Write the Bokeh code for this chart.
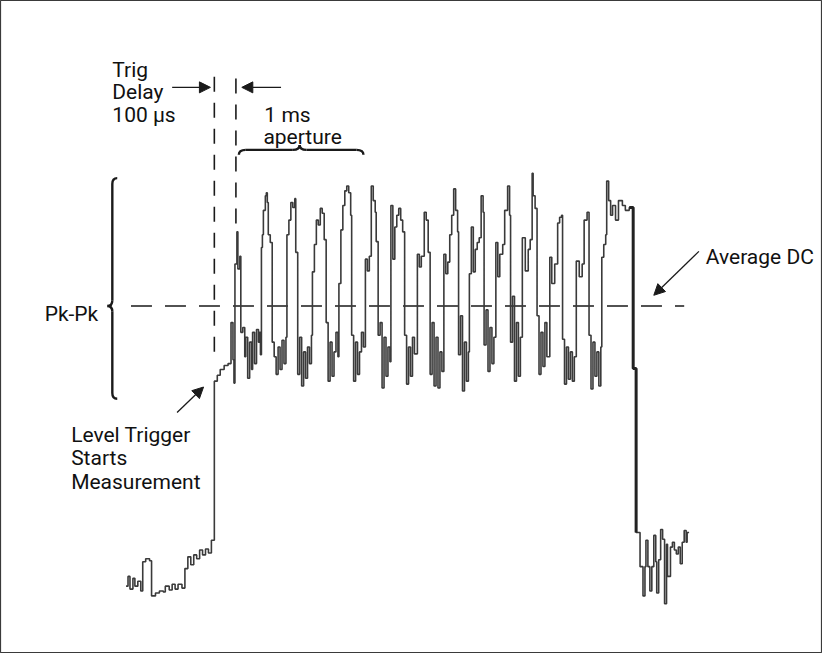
from bokeh.plotting import figure
from bokeh.models import Range1d, Arrow, NormalHead
from bokeh.core.properties import value
from bokeh.embed import file_html
from bokeh.resources import INLINE

# ---------------- data (time in sample ticks, level in screen-oriented units) ----------------
t_trace = [128, 130, 132, 135, 137, 140, 143, 145, 148, 152, 154, 158, 162, 166, 168, 172, 175, 178, 181, 185,
           188, 191, 194, 197, 200, 203, 206, 209, 212, 215,
           218, 221, 224, 228, 232, 235, 237, 238, 239, 241, 242, 244, 245,
           247, 249, 250, 252, 254, 256, 257, 259, 261, 263, 264,
           265, 266, 267, 268, 270, 271, 272, 273, 275, 277,
           279, 281, 283, 285, 287, 289, 291,
           292, 294, 296, 298, 300, 301, 303,
           305, 307, 309, 311, 313, 315, 317,
           318, 320, 322, 324, 326, 328, 330, 332,
           334, 336, 338, 340, 342, 344,
           345, 347, 349, 351, 353, 355, 357, 358,
           360, 362, 364, 366, 368, 370,
           372, 374, 376, 378, 380, 382, 383, 385,
           387, 389, 391, 393, 395, 397,
           398, 400, 402, 404, 406, 408, 410, 412,
           414, 416, 418, 420, 422,
           425, 427, 429, 432, 434, 436, 438,
           440, 442, 444, 446, 448, 450,
           452, 454, 456, 458, 460, 462, 464, 466, 467,
           469, 471, 473, 475, 477,
           478, 480, 482, 484, 486, 488, 490, 492, 493,
           495, 497, 499, 501, 503,
           505, 507, 509, 512, 514, 517, 519, 520,
           522, 524, 526, 528, 530,
           532, 535, 538, 540, 542, 543, 545, 547,
           549, 551, 553, 555, 557,
           560, 562, 565, 568, 570, 572, 573,
           575, 577, 579, 581, 583, 585,
           587, 590, 593, 595, 598, 600,
           602, 604, 606, 608, 610, 612,
           613, 615, 617, 618, 620, 622, 624, 627, 630, 634, 637, 641, 645,
           648, 652, 655, 657, 658, 660, 662, 664, 666, 668, 669, 671, 673, 675, 677, 679, 680,
           683, 685, 687, 689, 691, 693, 695, 697, 699, 700, 702]
v_trace = [600, 590, 603, 592, 600, 595, 605, 575, 572, 574, 610, 607, 605, 606, 600, 604, 598, 603, 598, 602,
           582, 570, 578, 568, 572, 563, 568, 562, 566, 553,
           390, 384, 378, 374, 372, 330, 368, 392, 270, 237, 275, 262, 340,
           335, 365, 345, 387, 350, 378, 340, 372, 337, 350, 340,
           363, 253, 240, 215, 200, 197, 207, 240, 248, 350,
           365, 383, 355, 378, 348, 372, 345,
           240, 225, 207, 212, 203, 258, 383,
           345, 395, 360, 387, 355, 372, 343,
           278, 250, 225, 230, 213, 218, 245, 330,
           390, 350, 385, 360, 340, 365,
           290, 235, 210, 195, 190, 197, 220, 343,
           390, 350, 383, 360, 340, 355,
           265, 277, 262, 190, 205, 217, 247, 343,
           330, 397, 345, 385, 355, 370,
           210, 265, 232, 220, 213, 225, 237, 343,
           393, 355, 385, 345, 362,
           260, 273, 262, 217, 225, 258, 383,
           330, 395, 345, 397, 360, 380,
           260, 280, 268, 240, 220, 193, 215, 237, 363,
           323, 400, 350, 390, 360,
           280, 232, 278, 255, 248, 243, 200, 217, 353,
           317, 380, 335, 372, 345,
           248, 283, 260, 250, 215, 190, 220, 350,
           303, 390, 330, 385, 345,
           243, 277, 255, 245, 177, 200, 213, 323,
           383, 340, 375, 330, 365,
           263, 290, 270, 228, 222, 220, 347,
           393, 355, 388, 360, 390, 365,
           267, 283, 270, 225, 217, 343,
           398, 350, 385, 360, 395, 355,
           263, 250, 240, 185, 205, 220, 210, 225, 205, 210, 215, 212, 377,
           545, 580, 610, 580, 553, 580, 605, 580, 548, 575, 607, 573, 542, 552, 618, 557, 590,
           560, 555, 563, 567, 560, 577, 555, 543, 555, 545, 545]

avg_dc_level = 313          # Average DC level
trig_delay_t = 218          # level trigger point
aperture_start_t = 240      # start of 1 ms aperture (after 100 us delay)
aperture_end_t = 370

labels = ["Trig", "Delay", "100 \u03bcs", "1 ms", "aperture", "Pk-Pk", "Average DC",
          "Level Trigger", "Starts", "Measurement"]

# ---------------- figure ----------------
W, H = 822, 653
p = figure(width=W, height=H, x_range=Range1d(0, 838), y_range=Range1d(669, 0),
           output_backend="svg", toolbar_location=None, min_border=0,
           x_axis_location=None, y_axis_location=None)
p.grid.visible = False
p.outline_line_color = "#3a3a3a"
p.outline_line_width = 1.2
p.background_fill_color = "white"
p.border_fill_color = "white"

INK = "#1a1a1a"

# average DC dashed line
p.segment(x0=[133], y0=[avg_dc_level], x1=[697], y1=[avg_dc_level],
          line_color=INK, line_width=1.6, line_dash="21 13")

# vertical dashed markers
p.segment(x0=[trig_delay_t, aperture_start_t], y0=[78, 80],
          x1=[trig_delay_t, aperture_start_t], y1=[365, 236],
          line_color=INK, line_width=1.6, line_dash="15 11")

# waveform
p.step(x=t_trace, y=v_trace, mode="after", line_color="#3a3a3a", line_width=1.6)
i0 = t_trace.index(645)
p.step(x=t_trace[i0 - 1:i0 + 2], y=v_trace[i0 - 1:i0 + 2], mode="after",
       line_color="#222222", line_width=3)

# braces
def hbrace(x0, x1, xt, yb, ym, yt, r):
    p.quadratic(x0=[x0, xt - r, xt, x1 - r], y0=[yb, ym, yt, ym],
                x1=[x0 + r, xt, xt + r, x1], y1=[ym, yt, ym, yb],
                cx=[x0, xt, xt, x1], cy=[ym, ym, ym, ym],
                line_color=INK, line_width=2.4)
    p.segment(x0=[x0 + r, xt + r], y0=[ym, ym], x1=[xt - r, x1 - r], y1=[ym, ym],
              line_color=INK, line_width=2.4)

def vbrace(y0, y1, yt, xb, xm, xt, r):
    p.quadratic(y0=[y0, yt - r, yt, y1 - r], x0=[xb, xm, xt, xm],
                y1=[y0 + r, yt, yt + r, y1], x1=[xm, xt, xm, xb],
                cy=[y0, yt, yt, y1], cx=[xm, xm, xm, xm],
                line_color=INK, line_width=2.4)
    p.segment(y0=[y0 + r, yt + r], x0=[xm, xm], y1=[yt - r, y1 - r], x1=[xm, xm],
              line_color=INK, line_width=2.4)

hbrace(aperture_start_t + 3, aperture_end_t, 305, 158, 153, 148, 7)
vbrace(182, 408, avg_dc_level, 119, 114, 109, 6)

# arrows
head = dict(size=11, fill_color=INK, line_color=INK)
for xs, ys, xe, ye in [(175, 89, 214, 89), (286, 89, 246, 89),
                       (180, 422, 207, 396), (712, 257, 666, 302)]:
    p.add_layout(Arrow(end=NormalHead(**head), x_start=xs, y_start=ys, x_end=xe, y_end=ye,
                       line_color=INK, line_width=1.3))

# labels
lx = [114, 114, 114, 269, 268, 45, 719, 72, 72, 72]
ly = [71, 94, 117, 117, 140, 321, 263, 445, 469, 493]
p.text(x=lx, y=ly, text=labels, text_font=value("Roboto"),
       text_font_size="21px", text_color="#111111",
       text_baseline="alphabetic", text_align="left")

open("out.html", "w").write(file_html(p, INLINE))
